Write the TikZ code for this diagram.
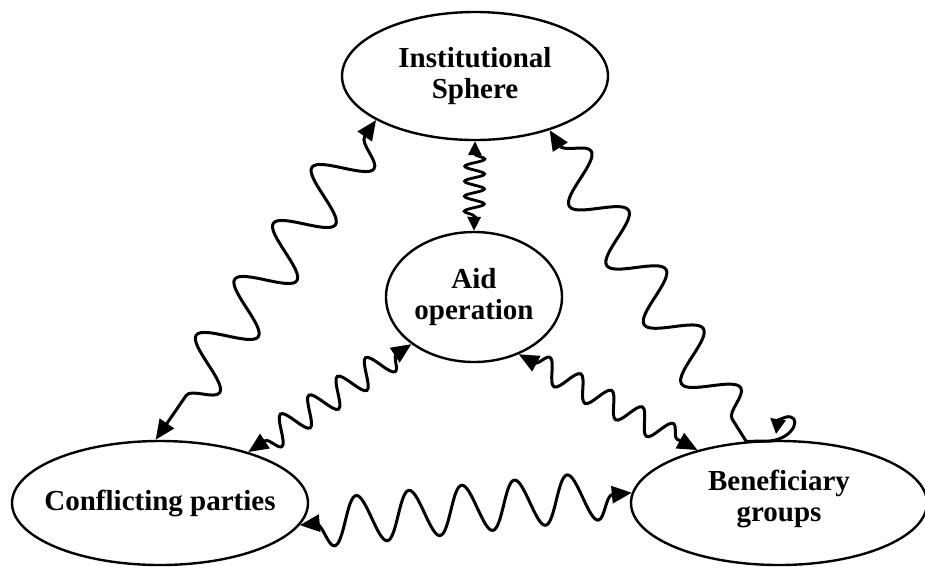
\documentclass[tikz,border=0pt]{standalone}
\usepackage{fontspec}
\setmainfont{Liberation Serif}
\usetikzlibrary{shapes.geometric, decorations.pathmorphing, arrows.meta}

\begin{document}
\begin{tikzpicture}[x=1pt, y=-1pt,
  >={Triangle[length=20pt, width=17pt]},
  party/.style={ellipse, draw, line width=2.4pt, inner sep=0pt},
  caption/.style={align=center, font=\bfseries\fontsize{29}{31}\selectfont, inner sep=0pt},
  link/.style={line width=3pt, <->},
  wave/.style n args={3}{decorate, decoration={snake, amplitude=#1, segment length=#2, pre length=#3, post length=#3}},
]
\useasboundingbox (0,0) rectangle (925,566);

% the four spheres
\node[party, minimum width=266pt, minimum height=128pt] (inst) at (475,76) {};
\node[caption] (instT) at (inst) {Institutional\\Sphere};

\node[party, minimum width=176pt, minimum height=130pt] (aid) at (474,297) {};
\node[caption] (aidT) at (aid) {Aid\\operation};

\node[party, minimum width=296pt, minimum height=124pt] (conf) at (160,503) {};
\node[caption] (confT) at (conf) {Conflicting parties};

\node[party, minimum width=296pt, minimum height=124pt] (ben) at (779,503) {};
\node[caption] (benT) at ([yshift=4pt]ben.center) {Beneficiary\\groups};

% curl at the end of the link to the beneficiary groups
\coordinate (curlA) at (770,441);
\coordinate (curlB) at (786,417);
\coordinate (curlC) at (776,434);

% wavy links
\draw[link, wave={26pt}{68pt}{20pt}] (inst.204) -- (conf.94);
\draw[line width=2.8pt, >={Triangle[length=14pt, width=13pt]}, <->, wave={10pt}{15pt}{13pt}] (inst.270) -- (aid.90);
\draw[line width=3pt, <-] (inst.324)
  decorate[decoration={snake, amplitude=24pt, segment length=70pt, pre length=18pt, post length=6pt}] {-- (ben.118)}
  -- (curlA) .. controls (796,438) and (802,414) .. (curlB);
\draw[line width=3pt, -{Triangle[length=15pt, width=15pt]}] (curlB) .. controls (778,420) .. (curlC);
\draw[link, wave={14pt}{34pt}{18pt}] (aid.217) -- (conf.30);
\draw[link, wave={12pt}{35pt}{18pt}] (aid.308) -- (ben.147);
\draw[link, wave={24pt}{53pt}{16pt}, decoration={mirror}] (conf.351) -- (ben.176);
\end{tikzpicture}
\end{document}
